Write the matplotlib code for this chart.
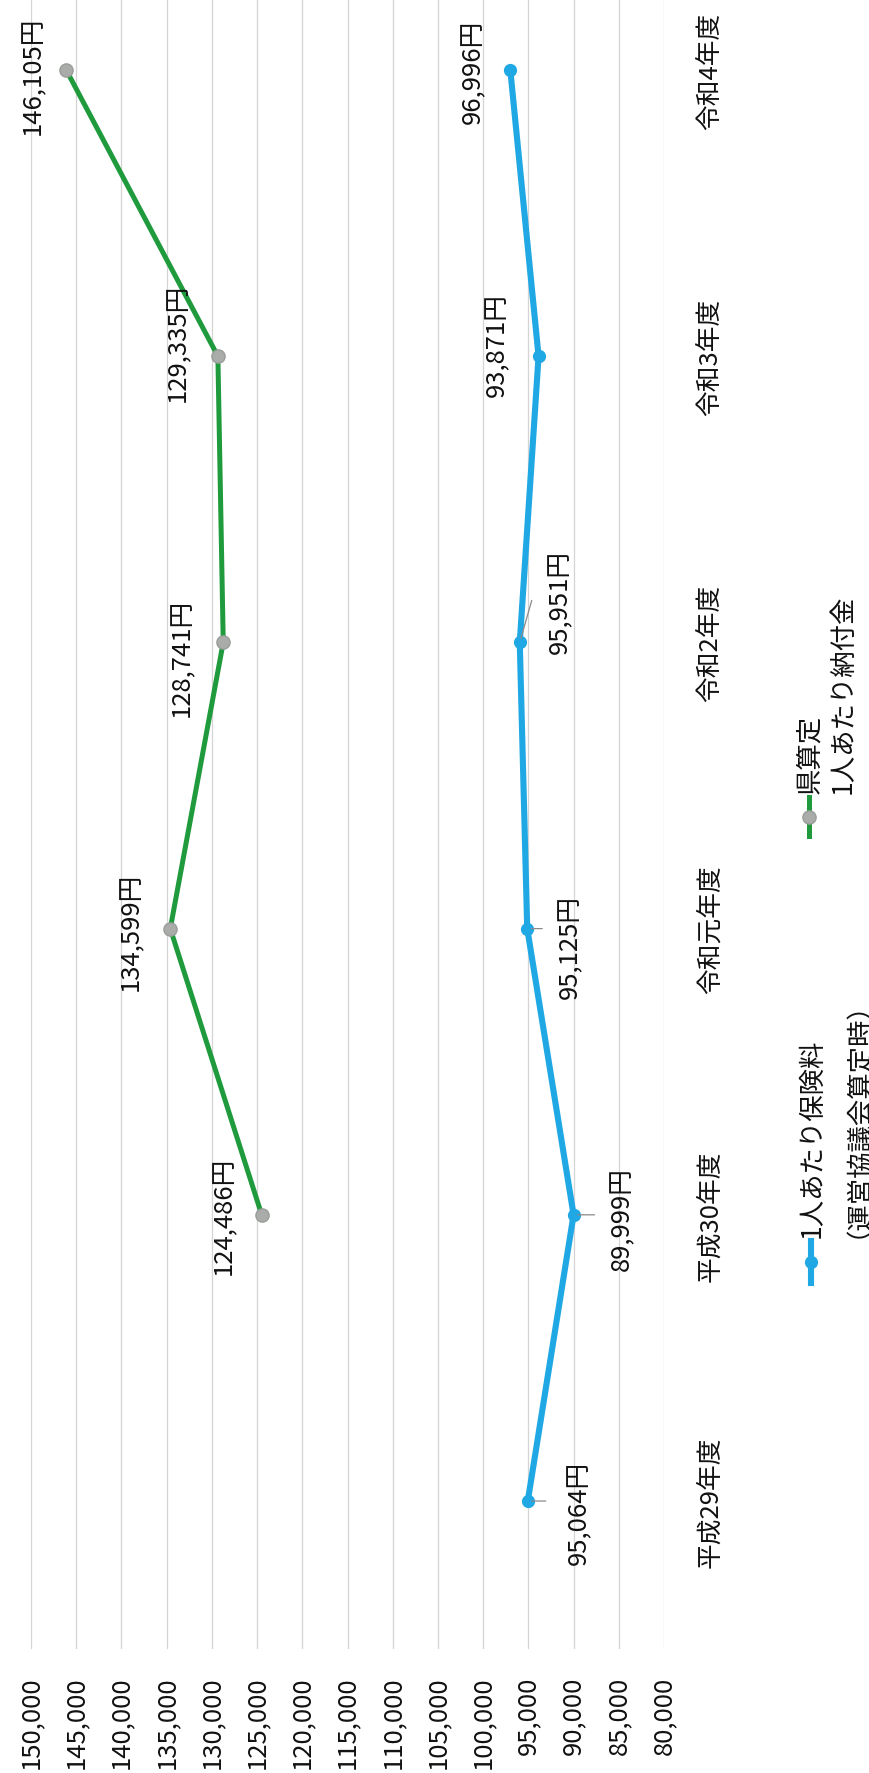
import matplotlib
matplotlib.use("Agg")
import matplotlib.pyplot as plt
import numpy as np
from matplotlib.lines import Line2D

plt.rcParams['font.family'] = ['Noto Sans CJK JP', 'DejaVu Sans']

# data (chart is drawn turned on its side: values run right-to-left, years bottom-to-top)
years = ['平成29年度', '平成30年度', '令和元年度', '令和2年度', '令和3年度', '令和4年度']
hoken = [95064, 89999, 95125, 95951, 93871, 96996]
nofu = [np.nan, 124486, 134599, 128741, 129335, 146105]
value_ticks = list(range(80000, 150001, 5000))
hoken_name = '1人あたり保険料\n（運営協議会算定時）'
nofu_name = '県算定\n1人あたり納付金'

BLUE = '#1fa8e4'
GREEN = '#1f9a3c'
GRAY = '#a9aca9'
W, H = 869, 1774
PX = 0.72  # points per pixel at dpi 100

# label offsets in pixels (dx right, dy down)
hoken_off = [(51, 11), (49, 3), (43, 17), (40, -41), (-41, -12), (-37, 1)]
nofu_off = [None, (-38, 0), (-39, 2), (-41, 14), (-40, -14), (-33, 5)]
hoken_lead = [(18, 0), (21, 0), (15, 0), (12, -42), None, None]

fig = plt.figure(figsize=(W / 100, H / 100), dpi=100)
ax = fig.add_axes([31 / W, 124 / H, 633 / W, 1650 / H])
y = np.arange(len(years))

ax.plot(hoken, y, color=BLUE, lw=4.4, marker='o', ms=8.5, mfc=BLUE, mec=BLUE, zorder=3)
ax.plot(nofu, y, color=GREEN, lw=3.6, marker='o', ms=9.5, mfc=GRAY, mec='#9a9d9a', zorder=3)

for i, v in enumerate(hoken):
    lead = hoken_lead[i]
    if lead is not None:
        ax.annotate('', xy=(v, i), xytext=(lead[0] * PX, -lead[1] * PX), textcoords='offset points',
                    arrowprops=dict(arrowstyle='-', color='#8a8a8a', lw=0.9, shrinkA=0, shrinkB=3))
    dx, dy = hoken_off[i]
    ax.annotate(f'{v:,}円', xy=(v, i), xytext=(dx * PX, -dy * PX), textcoords='offset points',
                rotation=90, ha='center', va='center', fontsize=18.5, color='#111111')

for i, v in enumerate(nofu):
    if nofu_off[i] is None:
        continue
    dx, dy = nofu_off[i]
    ax.annotate(f'{v:,}円', xy=(v, i), xytext=(dx * PX, -dy * PX), textcoords='offset points',
                rotation=90, ha='center', va='center', fontsize=18.5, color='#111111')

ax.set_xlim(150000, 80000)
ax.set_ylim(-0.517, 5.248)
ax.set_xticks(value_ticks)
ax.set_xticklabels([f'{t:,}' for t in value_ticks], rotation=90, fontsize=18.5, color='#111111')
ax.set_yticks(y)
ax.set_yticklabels(years, rotation=90, va='center', fontsize=18.5, color='#111111')
ax.yaxis.tick_right()
ax.tick_params(axis='both', length=0)
ax.tick_params(axis='x', pad=19)
ax.tick_params(axis='y', pad=24)
for s in ax.spines.values():
    s.set_visible(False)
ax.grid(axis='x', color='#d4d4d4', lw=0.9)
ax.grid(axis='y', visible=False)
ax.set_axisbelow(True)

# legend, drawn by hand since it is turned too
fig.add_artist(Line2D([811 / W, 811 / W], [1 - 1242 / H, 1 - 1284 / H], color=BLUE, lw=4.4))
fig.add_artist(Line2D([811 / W], [1 - 1263 / H], color=BLUE, marker='o', ms=8.5, mfc=BLUE, mec=BLUE))
fig.text(798 / W, 1 - 1238 / H, hoken_name, rotation=90, ha='left', va='bottom',
         fontsize=19, linespacing=1.3, multialignment='left', color='#111111')

fig.add_artist(Line2D([809 / W, 809 / W], [1 - 798 / H, 1 - 837 / H], color=GREEN, lw=3.6))
fig.add_artist(Line2D([809 / W], [1 - 818 / H], color=GREEN, marker='o', ms=9.5, mfc=GRAY, mec='#9a9d9a'))
fig.text(796 / W, 1 - 794 / H, nofu_name, rotation=90, ha='left', va='bottom',
         fontsize=19, linespacing=1.3, multialignment='left', color='#111111')

fig.savefig('out.png', dpi=100)
